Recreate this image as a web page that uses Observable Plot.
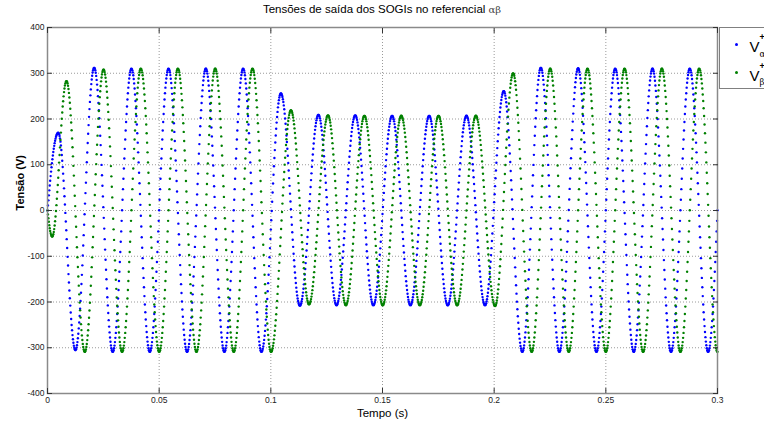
<!DOCTYPE html>
<html>
<head>
<meta charset="utf-8">
<script src="https://cdn.jsdelivr.net/npm/d3@7"></script>
<script src="https://cdn.jsdelivr.net/npm/@observablehq/plot@0.6"></script>
<style>
  html, body { margin: 0; padding: 0; background: #fff; overflow: hidden; }
  #wrap { position: relative; width: 764px; height: 421px; overflow: hidden;
          font-family: "Liberation Sans", Arial, sans-serif; }
  #wrap svg { position: absolute; left: 0; top: 0; }
  #title { position: absolute; left: 47px; width: 670px; top: 3.5px; text-align: center;
           font-size: 11.5px; line-height: 1; color: #000; white-space: nowrap; }
  #title .gr { font-family: "DejaVu Serif", serif; font-size: 10px; color: #444; }
  #legend { position: absolute; left: 719px; top: 27px; width: 90px; height: 62px;
            border: 1px solid #808080; background: #fff; box-sizing: border-box; }
  #legend .dot { position: absolute; width: 3px; height: 3px; border-radius: 50%; }
  #legend .v { position: absolute; font-size: 15px; line-height: 1; }
  #legend .sup { position: absolute; font-size: 9px; line-height: 1; font-weight: bold; }
  #legend .sub { position: absolute; font-family: "DejaVu Serif", serif; font-size: 8.5px; line-height: 1; }
</style>
</head>
<body>
<div id="wrap">
  <div id="title">Tensões de saída dos SOGIs no referencial <span class="gr">αβ</span></div>
</div>
<script>
// ---- axes ----
const xTicks = [0, 0.05, 0.1, 0.15, 0.2, 0.25, 0.3];
const xTickLabels = ["0", "0.05", "0.1", "0.15", "0.2", "0.25", "0.3"];
const yTicks = [-400, -300, -200, -100, 0, 100, 200, 300, 400];
const yTickLabels = ["-400", "-300", "-200", "-100", "0", "100", "200", "300", "400"];
const xLabel = "Tempo (s)";
const yLabel = "Tensão (V)";

// ---- sampling of the plotted signals ----
const sampleRate = 5000;   // samples per second (dot spacing)
const tEnd = 0.3;

// ---- v_alpha+ : successive extremes (time s, value V) ----
const alphaExtT = [0, 0.0048, 0.0125, 0.0209, 0.0292, 0.0376, 0.0458, 0.0542, 0.0625, 0.0709,
  0.0792, 0.0876, 0.0958, 0.1045, 0.1130, 0.1213, 0.1294, 0.1378, 0.1459, 0.1543,
  0.1625, 0.1709, 0.1792, 0.1876, 0.1959, 0.2043, 0.2126, 0.2209, 0.2292, 0.2376,
  0.2458, 0.2542, 0.2625, 0.2709, 0.2792, 0.2876, 0.2958, 0.3042];
const alphaExtV = [0, 170, -305, 312, -309, 310, -309, 310, -309, 310,
  -309, 310, -309, 256, -208, 209, -207, 208, -207, 207,
  -207, 207, -207, 207, -207, 261, -309, 312, -309, 311,
  -309, 310, -309, 310, -309, 310, -309, 310];

// ---- v_beta+ : successive extremes (time s, value V) ----
const betaExtT = [0, 0.0021, 0.0085, 0.0167, 0.0251, 0.0334, 0.0418, 0.0500, 0.0584, 0.0667,
  0.0751, 0.0834, 0.0918, 0.1001, 0.1090, 0.1171, 0.1256, 0.1336, 0.1419, 0.1501,
  0.1584, 0.1667, 0.1751, 0.1834, 0.1918, 0.2004, 0.2085, 0.2168, 0.2251, 0.2334,
  0.2418, 0.2500, 0.2584, 0.2667, 0.2751, 0.2834, 0.2918, 0.3000];
const betaExtV = [0, -57, 283, -309, 308, -309, 310, -309, 310, -309,
  310, -309, 310, -309, 219, -205, 208, -207, 207, -207,
  207, -207, 207, -207, 207, -209, 300, -309, 310, -309,
  310, -309, 310, -309, 310, -309, 310, -309];

const seriesColors = ["#0000ff", "#008000"];
const seriesSubs = ["α", "β"];

// samples of a waveform whose successive extremes are given
function sampleSeries(extT, extV) {
  const pts = [];
  const n = Math.round(tEnd * sampleRate);
  let seg = 0;
  for (let k = 0; k <= n; k++) {
    const t = k / sampleRate;
    while (seg < extT.length - 2 && t > extT[seg + 1]) seg++;
    const t0 = extT[seg], t1 = extT[seg + 1], v0 = extV[seg], v1 = extV[seg + 1];
    const u = Math.min(1, (t - t0) / (t1 - t0));
    const v = seg === 0
      ? v1 * Math.sin(Math.PI / 2 * u)
      : (v0 + v1) / 2 + (v0 - v1) / 2 * Math.cos(Math.PI * u);
    pts.push({t, v});
  }
  return pts;
}

const alphaPts = sampleSeries(alphaExtT, alphaExtV);
const betaPts = sampleSeries(betaExtT, betaExtV);

const xFmt = d => xTickLabels[xTicks.indexOf(d)];
const yFmt = d => yTickLabels[yTicks.indexOf(d)];
const gridStyle = {stroke: "#9a9a9a", strokeOpacity: 1, strokeWidth: 1, strokeDasharray: "1,2"};

const chart = Plot.plot({
  width: 764,
  height: 421,
  marginLeft: 47,
  marginRight: 47,
  marginTop: 27,
  marginBottom: 28,
  style: {fontFamily: "'Liberation Sans', Arial, sans-serif", background: "transparent", overflow: "visible"},
  x: {domain: [0, 0.3], label: null},
  y: {domain: [-400, 400], label: null},
  marks: [
    Plot.gridX(xTicks, gridStyle),
    Plot.gridY(yTicks, gridStyle),
    Plot.dot(alphaPts, {x: "t", y: "v", r: 1.2, fill: seriesColors[0], stroke: null}),
    Plot.dot(betaPts, {x: "t", y: "v", r: 1.2, fill: seriesColors[1], stroke: null}),
    Plot.frame({stroke: "#8a8a8a", strokeWidth: 1.5}),
    // inward tick marks on all four sides
    Plot.axisX(xTicks, {anchor: "bottom", tickSize: -5, tickFormat: () => "", stroke: "#333", label: null}),
    Plot.axisX(xTicks, {anchor: "top", tickSize: -5, tickFormat: () => "", stroke: "#333", label: null}),
    Plot.axisY(yTicks, {anchor: "left", tickSize: -5, tickFormat: () => "", stroke: "#333", label: null}),
    Plot.axisY(yTicks, {anchor: "right", tickSize: -5, tickFormat: () => "", stroke: "#333", label: null}),
    // tick labels
    Plot.axisX(xTicks, {anchor: "bottom", tickSize: 0, tickPadding: 3, tickFormat: xFmt, fontSize: 8.5, fill: "#222", label: null}),
    Plot.axisY(yTicks, {anchor: "left", tickSize: 0, tickPadding: 3, tickFormat: yFmt, fontSize: 8.5, fill: "#222", label: null}),
    // axis titles
    Plot.text([xLabel], {frameAnchor: "bottom", dy: 19.7, lineAnchor: "middle", fontSize: 11.5, fill: "#000"}),
    Plot.text([yLabel], {frameAnchor: "left", dx: -27, rotate: -90, lineAnchor: "middle", fontSize: 11, fontWeight: "bold", fill: "#000"})
  ]
});

const wrap = document.getElementById("wrap");
wrap.insertBefore(chart, wrap.firstChild);

// legend (HTML overlay; in the reference it sits right of the axes)
const legend = document.createElement("div");
legend.id = "legend";
seriesColors.forEach((color, i) => {
  const dy = i * 28.7;
  const dot = document.createElement("span");
  dot.className = "dot";
  dot.style.background = color;
  dot.style.left = "14.5px";
  dot.style.top = (14.5 + dy) + "px";
  legend.appendChild(dot);
  const v = document.createElement("span");
  v.className = "v"; v.textContent = "V";
  v.style.left = "29.5px"; v.style.top = (11 + dy) + "px";
  legend.appendChild(v);
  const sup = document.createElement("span");
  sup.className = "sup"; sup.textContent = "+";
  sup.style.left = "39.6px"; sup.style.top = (5 + dy) + "px";
  legend.appendChild(sup);
  const sub = document.createElement("span");
  sub.className = "sub"; sub.textContent = seriesSubs[i];
  sub.style.left = "39.6px"; sub.style.top = (21.5 + dy) + "px";
  legend.appendChild(sub);
});
wrap.appendChild(legend);
</script>
</body>
</html>
